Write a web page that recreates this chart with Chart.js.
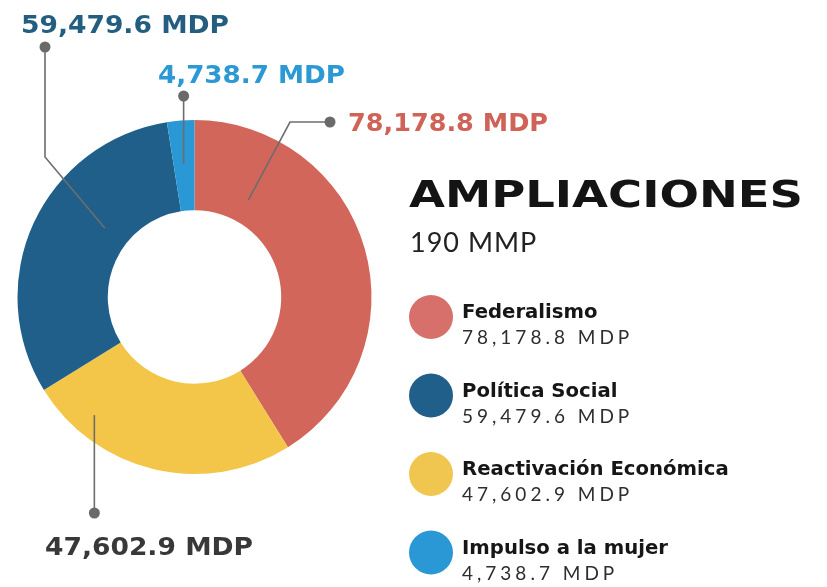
<!DOCTYPE html>
<html>
<head>
<meta charset="utf-8">
<script src="https://cdn.jsdelivr.net/npm/chart.js@4.4.1/dist/chart.umd.min.js"></script>
<style>
  html, body { margin: 0; padding: 0; background: #ffffff; }
  #wrap { position: relative; width: 827px; height: 587px; }
</style>
</head>
<body>
<div id="wrap"><canvas id="c" width="827" height="587"></canvas></div>
<script>
// ---- data ----
const categories = ["Federalismo", "Reactivación Económica", "Política Social", "Impulso a la mujer"];
const values = [78178.8, 47602.9, 59479.6, 4738.7];
const valueLabels = ["78,178.8 MDP", "47,602.9 MDP", "59,479.6 MDP", "4,738.7 MDP"];
const sliceColors = ["#d2665b", "#f3c548", "#1f5f8a", "#2a98d4"];
const calloutColors = ["#cf6357", "#383838", "#235e80", "#2b99d3"];
const legendOrder = [0, 2, 1, 3];
const legendColors = ["#d7706a", "#f1c650", "#1f5f8a", "#2a98d4"];
const title = "AMPLIACIONES";
const subtitle = "190 MMP";

// ---- callout layout (annotation placement) ----
// anchor: fraction along slice angle, fraction across ring thickness
const callouts = [
  { anchor: [0.196, 0.27], path: [[290, 122], [330, 122]], text: [348, 131], w: 200 },
  { anchor: [0.80, 0.755], path: [['ax', 513]], text: [45, 555], w: 208 },
  { anchor: [0.614, 0.29], path: [[45, 157], [45, 47]], text: [21, 33], w: 208 },
  { anchor: [0.48, 0.52], path: [['ax', 96]], text: [158, 83], w: 187 }
];

function wideText(ctx, txt, x, y, targetW) {
  const w = ctx.measureText(txt).width;
  const s = targetW / w;
  ctx.save();
  ctx.translate(x, y);
  ctx.scale(s, 1);
  ctx.fillText(txt, 0, 0);
  ctx.restore();
}

const calloutPlugin = {
  id: 'callouts',
  afterDraw(chart) {
    const ctx = chart.ctx;
    const meta = chart.getDatasetMeta(0);
    ctx.save();
    ctx.textBaseline = 'alphabetic';
    ctx.textAlign = 'left';
    meta.data.forEach((arc, i) => {
      const c = callouts[i];
      const p = arc.getProps(['x', 'y', 'startAngle', 'endAngle', 'innerRadius', 'outerRadius'], true);
      const ang = p.startAngle + (p.endAngle - p.startAngle) * c.anchor[0];
      const r = p.innerRadius + (p.outerRadius - p.innerRadius) * c.anchor[1];
      const ax = p.x + r * Math.cos(ang);
      const ay = p.y + r * Math.sin(ang);
      const pts = [[ax, ay]].concat(c.path.map(q => [q[0] === 'ax' ? ax : q[0], q[1]]));
      ctx.strokeStyle = '#6d6d6d';
      ctx.lineWidth = 1.6;
      ctx.beginPath();
      ctx.moveTo(pts[0][0], pts[0][1]);
      for (let k = 1; k < pts.length; k++) ctx.lineTo(pts[k][0], pts[k][1]);
      ctx.stroke();
      const end = pts[pts.length - 1];
      ctx.fillStyle = '#6a6a6a';
      ctx.beginPath();
      ctx.arc(end[0], end[1], 5.5, 0, Math.PI * 2);
      ctx.fill();
      ctx.fillStyle = calloutColors[i];
      ctx.font = 'bold 25px "DejaVu Sans"';
      wideText(ctx, valueLabels[i], c.text[0], c.text[1], c.w);
    });

    // title
    ctx.fillStyle = '#141414';
    ctx.font = 'bold 37px "DejaVu Sans"';
    wideText(ctx, title, 409, 207, 394);
    ctx.fillStyle = '#222222';
    ctx.font = '400 27px Lato';
    try { ctx.letterSpacing = '1px'; } catch (e) {}
    ctx.fillText(subtitle, 410, 252);

    // legend
    legendOrder.forEach((idx, row) => {
      const cy = 317 + row * 78.5;
      ctx.fillStyle = legendColors[idx];
      ctx.beginPath();
      ctx.arc(431, cy, 22, 0, Math.PI * 2);
      ctx.fill();
      ctx.fillStyle = '#161616';
      ctx.font = 'bold 19px "DejaVu Sans"';
      try { ctx.letterSpacing = '0px'; } catch (e) {}
      const nw = ctx.measureText(categories[idx]).width;
      wideText(ctx, categories[idx], 462, cy + 1, nw * 1.035);
      ctx.fillStyle = '#2e2e2e';
      ctx.font = '400 19px Lato';
      try { ctx.letterSpacing = '4px'; } catch (e) {}
      ctx.fillText(valueLabels[idx], 462, cy + 27);
    });
    ctx.restore();
  }
};

new Chart(document.getElementById('c'), {
  type: 'doughnut',
  data: {
    labels: categories,
    datasets: [{
      data: values,
      backgroundColor: sliceColors,
      borderWidth: 0,
      hoverOffset: 0
    }]
  },
  options: {
    responsive: false,
    animation: false,
    cutout: '49%',
    layout: { padding: { left: 17.5, right: 455.5, top: 120, bottom: 113 } },
    plugins: { legend: { display: false }, tooltip: { enabled: false } },
    events: []
  },
  plugins: [calloutPlugin]
});
</script>
</body>
</html>
